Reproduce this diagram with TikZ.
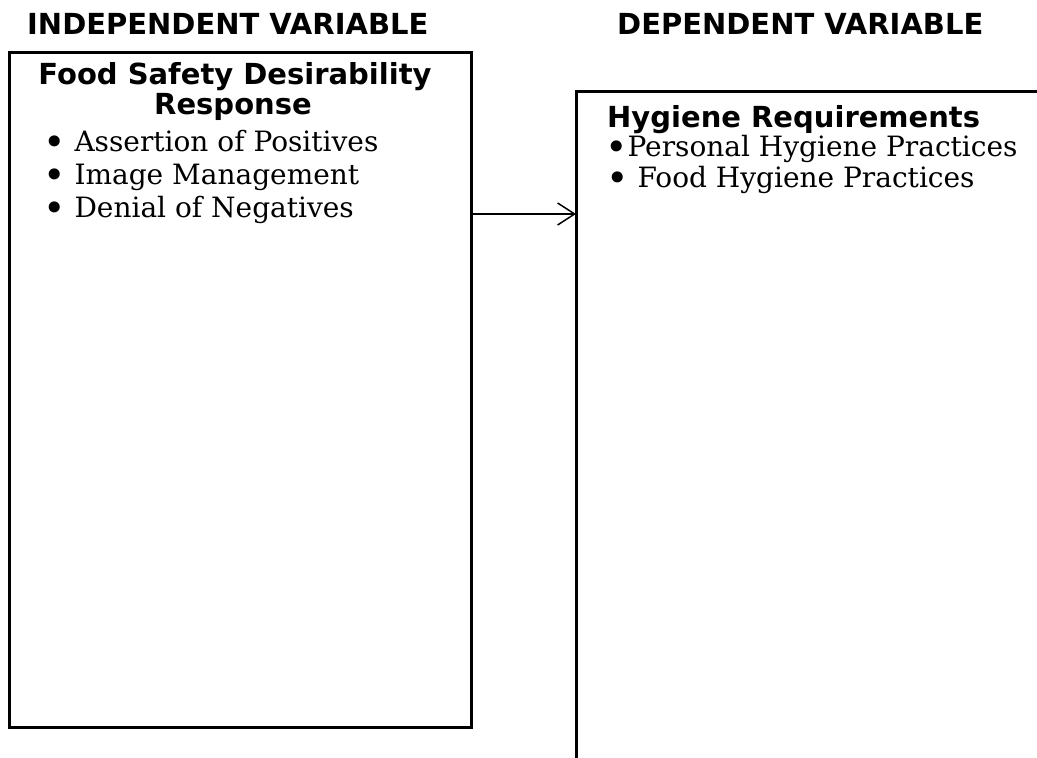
\documentclass[tikz,border=0pt]{standalone}
\usepackage{fontspec}
\setmainfont{DejaVu Serif}
\newfontfamily\headfont{DejaVu Sans}
\usetikzlibrary{arrows.meta}
\newcommand{\itembullet}{\raisebox{-3.5pt}[0pt][0pt]{\fontsize{38}{38}\selectfont\textbullet}}

\begin{document}
\begin{tikzpicture}
[x=1pt,y=1pt,
  headDecorate/.style={font=\headfont\bfseries\fontsize{29}{32}\selectfont,inner sep=0pt},%
  itemDecorate/.style={font=\fontsize{28}{32}\selectfont,inner sep=0pt,anchor=base west},%
  boxDecorate/.style={draw,line width=3pt,outer sep=0pt,inner sep=0pt,anchor=north west},%
  arrowDecorate/.style={-{Straight Barb[length=17pt,width=22pt,line width=1.5pt]},line width=1.4pt}]
\clip (0,0) rectangle (1037,758);
%% boxes
\node (ivbox) at (9.7,705) [boxDecorate,minimum width=462pt,minimum height=675pt] {};
\node (dvbox) at (576,666) [boxDecorate,minimum width=600pt,minimum height=700pt] {};
%% headings and box titles
\node (ivhead) at (27,723) [headDecorate,anchor=base west] {INDEPENDENT VARIABLE};
\node (dvhead) at (617,723) [headDecorate,anchor=base west] {DEPENDENT VARIABLE};
\node (ivtitle) at (235,673) [headDecorate,anchor=base] {Food Safety Desirability};
\node (ivsubtitle) at (233,643) [headDecorate,anchor=base] {Response};
\node (dvtitle) at (607,630) [headDecorate,anchor=base west] {Hygiene Requirements};
%% bullet items
\foreach \nodename/\x/\y/\txt in {
  ivitemA/43/606/{\itembullet\ Assertion of Positives},
  ivitemB/43/573/{\itembullet\ Image Management},
  ivitemC/43/540/{\itembullet\ Denial of Negatives},
  dvitemA/605/601/{\itembullet Personal Hygiene Practices},
  dvitemB/606/570/{\itembullet\ Food Hygiene Practices}}
{
  \node (\nodename) at (\x,\y) [itemDecorate] {\txt};
}
%% link between the variables
\coordinate (arrowlevel) at (0,544);
\draw[arrowDecorate] (ivbox.east |- arrowlevel) -- (dvbox.west |- arrowlevel);
\end{tikzpicture}
\end{document}
